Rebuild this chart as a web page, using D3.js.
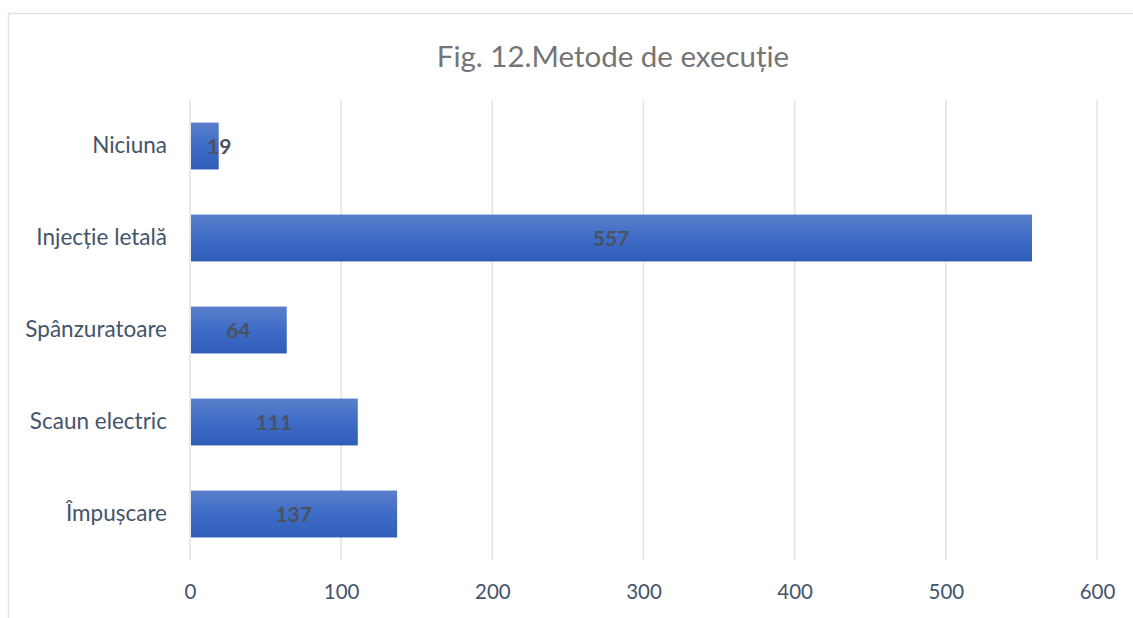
<!DOCTYPE html>
<html><head><meta charset="utf-8">
<script src="https://cdn.jsdelivr.net/npm/d3@7"></script>
<style>
body{margin:0;background:#fff;}
svg{display:block;font-family:"Lato","Open Sans",sans-serif;}
</style></head>
<body><svg id="c" width="1133" height="618"></svg>
<script>
const categories = ["Niciuna","Injecție letală","Spânzuratoare","Scaun electric","Împușcare"];
const values = [19,557,64,111,137];
const xTicks = [0,100,200,300,400,500,600];
const title = "Fig. 12.Metode de execuție";

const svg = d3.select("#c");
const W = 1133, H = 618;
const m = {left:190, right:36, top:100, bottom:58};
const FONT = "Lato,'Open Sans',sans-serif";

svg.append("path").attr("d",`M8.5,${H} V13.5 H${W}`).attr("fill","none").attr("stroke","#e0e3e7").attr("stroke-width",1.5);

const defs = svg.append("defs");
const g = defs.append("linearGradient").attr("id","bg").attr("x1",0).attr("y1",0).attr("x2",0).attr("y2",1);
g.append("stop").attr("offset","0%").attr("stop-color","#5b7fcb");
g.append("stop").attr("offset","50%").attr("stop-color","#3e6cc7");
g.append("stop").attr("offset","100%").attr("stop-color","#2f5db8");

const x = d3.scaleLinear().domain([0,600]).range([m.left, W-m.right]);
const y = d3.scaleBand().domain(categories).range([m.top, H-m.bottom]).paddingInner(0.49).paddingOuter(0.245);

svg.append("g").selectAll("line").data(xTicks).join("line")
  .attr("x1",d=>x(d)).attr("x2",d=>x(d)).attr("y1",m.top).attr("y2",H-m.bottom)
  .attr("stroke","#dfe2e6").attr("stroke-width",1.5);

svg.append("g").selectAll("rect").data(values).join("rect")
  .attr("x",x(0)+1).attr("y",(d,i)=>y(categories[i]))
  .attr("width",d=>x(d)-x(0)-1).attr("height",y.bandwidth())
  .attr("fill","url(#bg)");

const labels = svg.append("g").selectAll("text").data(values).join("text")
  .attr("y",(d,i)=>y(categories[i])+y.bandwidth()/2)
  .attr("dy","0.36em").attr("text-anchor","middle")
  .attr("font-size",21).attr("font-weight","bold").attr("fill","#4a5260")
  .text(d=>d);
labels.attr("x",function(d){
  const w = this.getComputedTextLength();
  return Math.max((x(0)+x(d))/2, x(0)+17+w/2);
});

const xa = svg.append("g").attr("transform",`translate(0,${H-m.bottom})`)
  .call(d3.axisBottom(x).tickValues(xTicks).tickSize(0).tickPadding(24));
xa.select(".domain").remove();
xa.selectAll("text").attr("font-size",20.5).attr("fill","#44546a").attr("font-family",FONT);

const ya = svg.append("g").attr("transform",`translate(${m.left},0)`)
  .call(d3.axisLeft(y).tickSize(0).tickPadding(23));
ya.select(".domain").remove();
ya.selectAll("text").attr("font-size",22.5).attr("fill","#44546a").attr("font-family",FONT);

svg.append("text").attr("x",613).attr("y",67).attr("text-anchor","middle")
  .attr("font-size",29.5).attr("fill","#757575").text(title);
</script>
</body></html>
